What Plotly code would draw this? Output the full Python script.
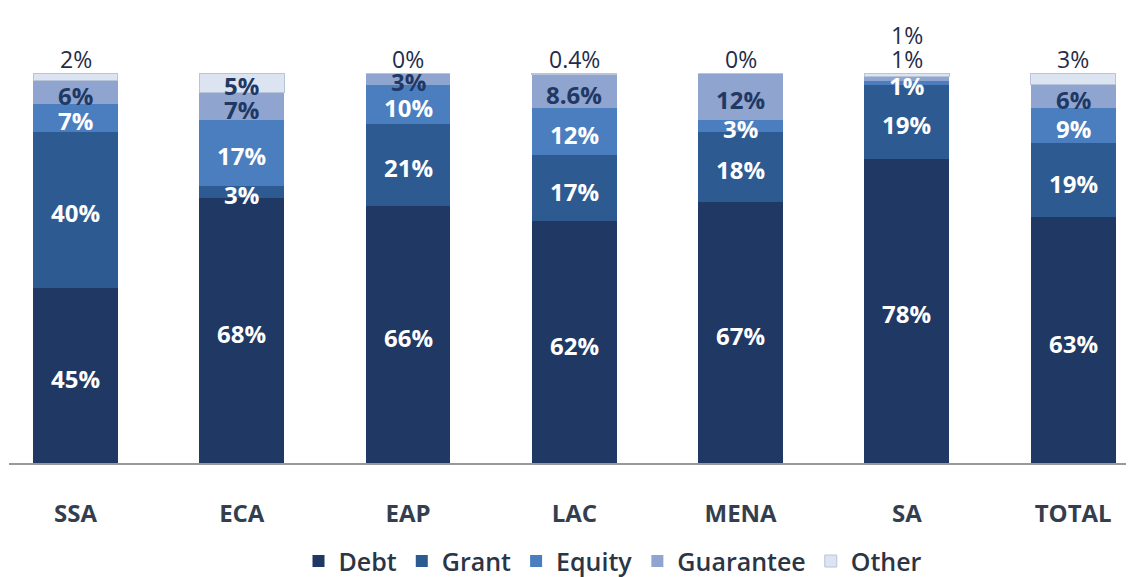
import plotly.graph_objects as go

categories = ["SSA", "ECA", "EAP", "LAC", "MENA", "SA", "TOTAL"]
series_names = ["Debt", "Grant", "Equity", "Guarantee", "Other"]
debt = [45, 68, 66, 62, 67, 78, 63]
grant = [40, 3, 21, 17, 18, 19, 19]
equity = [7, 17, 10, 12, 3, 1, 9]
guarantee = [6, 7, 3, 8.6, 12, 1, 6]
other = [2, 5, 0, 0.4, 0, 1, 3]
label_text = {
    "Debt": ["45%", "68%", "66%", "62%", "67%", "78%", "63%"],
    "Grant": ["40%", "3%", "21%", "17%", "18%", "19%", "19%"],
    "Equity": ["7%", "17%", "10%", "12%", "3%", "1%", "9%"],
    "Guarantee": ["6%", "7%", "3%", "8.6%", "12%", "1%", "6%"],
    "Other": ["2%", "5%", "0%", "0.4%", "0%", "1%", "3%"],
}

series = [debt, grant, equity, guarantee, other]
colors = ["#1f3864", "#2e5a92", "#4a7ebf", "#8fa4ce", "#dce4f2"]
label_colors = ["white", "white", "white", "#1f3864", "#1f3864"]
FONT = "Open Sans"

fig = go.Figure()
for name, vals, col in zip(series_names, series, colors):
    fig.add_trace(go.Bar(
        x=categories, y=vals, name=name,
        marker=dict(color=col, line=dict(width=1 if name == "Other" else 0, color="#b8c4d8")),
        width=0.51, hoverinfo="skip",
    ))

annotations = []
for ci, cat in enumerate(categories):
    base = 0
    above = []
    for si, name in enumerate(series_names):
        v = series[si][ci]
        txt = label_text[name][ci]
        is_above = (name == "Other" and v < 5) or (name == "Guarantee" and v < 2)
        if is_above:
            above.append(txt)
        else:
            annotations.append(dict(
                x=cat, y=base + v / 2, text="<b>%s</b>" % txt, showarrow=False,
                yshift=-3, font=dict(family=FONT, size=24, color=label_colors[si]),
            ))
        base += v
    for k, txt in enumerate(above):
        annotations.append(dict(
            x=cat, y=100, yanchor="bottom", text=txt, showarrow=False,
            yshift=-4 + 24 * k, font=dict(family=FONT, size=23, color="#1f2d4a"),
        ))

# page body has an 8px margin, so the figure is 8px smaller than the window
W, H = 1126, 569
fig.update_layout(
    barmode="stack",
    width=W, height=H,
    margin=dict(l=1, r=1, t=65, b=114, autoexpand=False),
    paper_bgcolor="white", plot_bgcolor="white",
    annotations=annotations,
    xaxis=dict(
        range=[-0.4, 6.36], showline=True, linecolor="#999999", linewidth=1.5,
        ticks="", tickfont=dict(family=FONT, size=24, color="#333f4f", weight="bold"),
        ticklabelstandoff=28,
    ),
    yaxis=dict(range=[0, 100], visible=False, showgrid=False),
    legend=dict(
        orientation="h", x=(605 - 1) / 1124, xanchor="center", y=-0.252, yanchor="middle",
        font=dict(family=FONT, size=25, color="#2b3545", weight=600),
        itemwidth=30, traceorder="normal",
    ),
    showlegend=True,
)

fig.write_html("out.html")
